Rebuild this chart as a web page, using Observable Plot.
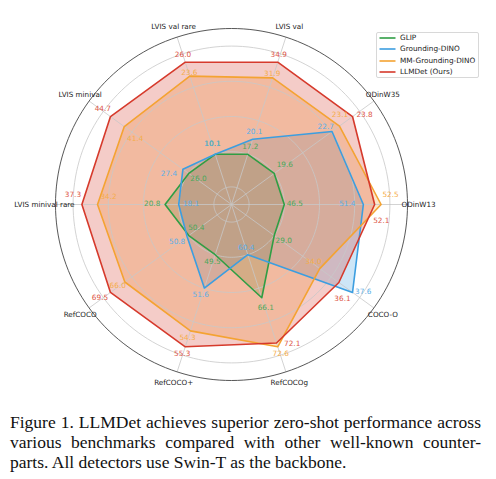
<!DOCTYPE html>
<html><head><meta charset="utf-8">
<script src="https://cdn.jsdelivr.net/npm/d3@7"></script>
<script src="https://cdn.jsdelivr.net/npm/@observablehq/plot@0.6"></script>
<style>
body{margin:0;background:#fff;}
#wrap{position:relative;width:496px;height:479px;overflow:hidden;}
#chart svg{display:block;}
#legend{position:absolute;left:376px;top:32px;width:103px;height:46px;border:1px solid #d8d8d8;border-radius:2px;background:rgba(255,255,255,0.85);font-family:"DejaVu Sans";font-size:7.3px;color:#222;box-sizing:border-box;}
.row{position:absolute;left:0;width:100%;height:0;}
.sw{position:absolute;left:2px;top:-2px;width:17px;height:4px;overflow:visible;}
.lab{position:absolute;left:23px;top:-5px;line-height:10px;white-space:nowrap;}
#caption{position:absolute;left:10px;top:411.5px;width:471px;font-family:"Liberation Serif","Times New Roman",serif;font-size:17.5px;line-height:20.3px;color:#111;}
.j{text-align:justify;text-align-last:justify;}
</style></head>
<body>
<div id="wrap">
  <div id="chart"></div>
  <div id="legend"></div>
  <div id="caption">
    <div class="j">Figure 1. LLMDet achieves superior zero-shot performance across</div>
    <div class="j">various benchmarks compared with other well-known counter-</div>
    <div>parts. All detectors use Swin-T as the backbone.</div>
  </div>
</div>
<script>
// ---- data ----
const axes = ["ODinW13","ODinW35","LVIS val","LVIS val rare","LVIS minival","LVIS minival rare","RefCOCO","RefCOCO+","RefCOCOg","COCO-O"];
const methods = ["GLIP","Grounding-DINO","MM-Grounding-DINO","LLMDet (Ours)"];
const glip    = [46.5,19.6,17.2,10.1,26.0,20.8,50.4,49.5,66.1,29.0];
const gdino   = [51.4,22.7,20.1,10.1,27.4,18.1,50.8,51.6,60.4,37.6];
const mmgdino = [52.5,23.1,31.9,23.6,41.4,34.2,66.0,54.3,72.6,34.0];
const llmdet  = [52.1,23.8,34.9,26.0,44.7,37.3,69.5,55.3,72.1,36.1];
const gridRadii = [0.1,0.3,0.5,0.7,0.9];

// ---- styles ----
const colors = ["#2f9e44","#3c9ee0","#f4a332","#d63a2c"];
const labelColors = ["#4aa85a","#5aaee6","#f5ad4a","#dd5546"];
// label nudges in pixels [dx, dy(down)] per method, per axis
const nudges = [
  [[10.5,-0.7],[10.6,-9],[2.5,-7.8],[-2.7,-10.5],[9.7,4.7],[-12.9,-1.3],[7.5,-7.7],[-2.7,6.8],[4,9.5],[9.5,5]],
  [[-16,-1],[-6.3,-5.2],[1.6,-7.7],[-2.7,-10.5],[-14,4.6],[12.3,-1.3],[-10,5.1],[-3.7,6.8],[-1.6,-6.9],[10.7,-0.7]],
  [[9.4,-10],[0.5,-11.2],[-0.5,-4.6],[-0.5,-3.9],[10.9,12.2],[11,-8],[-7.1,3.4],[-2.9,6.3],[3,6.4],[-6.3,-6.8]],
  [[6.7,16],[12,-1.7],[1,-7.7],[-2.3,-7.7],[-7.7,-7.7],[-9,-10],[-10.5,5.3],[-3.1,7],[15.7,0.8],[3.6,16]]
];

const series = [glip, gdino, mmgdino, llmdet];
const W = 496, H = 400, cx = 231, cy = 204, R = 176;
const rMin = 0.3, rSpan = 0.55, labelR = 1.063;
const n = axes.length;
const ang = i => i * 2 * Math.PI / n;
const mins = axes.map((_, i) => d3.min(series, s => s[i]));
const maxs = axes.map((_, i) => d3.max(series, s => s[i]));
const rad = (v, i) => rMin + rSpan * (v - mins[i]) / (maxs[i] - mins[i]);

const polys = series.map((s, k) => s.map((v, i) => ({
  x: rad(v, i) * Math.cos(ang(i)), y: rad(v, i) * Math.sin(ang(i)), v, i, k
})));
const labels = polys.flatMap((p, k) => p.map(d => ({
  x: d.x + nudges[k][d.i][0] / R, y: d.y - nudges[k][d.i][1] / R,
  text: d.v.toFixed(1), k
})));
const circle = r => d3.range(0, 361, 2).map(a => ({r, x: r * Math.cos(a * Math.PI / 180), y: r * Math.sin(a * Math.PI / 180)}));
const gridPts = gridRadii.flatMap(circle);
const spokes = axes.map((a, i) => ({x: Math.cos(ang(i)), y: Math.sin(ang(i))}));
const axisLabels = axes.map((a, i) => ({x: labelR * Math.cos(ang(i)), y: labelR * Math.sin(ang(i)), text: a}));

const marks = [];
polys.forEach((p, k) => marks.push(Plot.line(p, {x: "x", y: "y", curve: "linear-closed", fill: colors[k], fillOpacity: 0.26, stroke: "none"})));
marks.push(Plot.line(gridPts, {x: "x", y: "y", z: "r", curve: "linear-closed", stroke: "#c8c8c8", strokeWidth: 0.8}));
marks.push(Plot.link(spokes, {x1: 0, y1: 0, x2: "x", y2: "y", stroke: "#c8c8c8", strokeWidth: 0.8}));
polys.forEach((p, k) => marks.push(Plot.line(p, {x: "x", y: "y", curve: "linear-closed", stroke: colors[k], strokeWidth: 1.6})));
marks.push(Plot.line(circle(1), {x: "x", y: "y", curve: "linear-closed", stroke: "#444", strokeWidth: 0.9}));
marks.push(Plot.text(axisLabels, {x: "x", y: "y", text: "text", fontSize: 7.2, fill: "#222"}));
marks.push(Plot.text(labels, {x: "x", y: "y", text: "text", fontSize: 7.3, fill: d => labelColors[d.k]}));

const chart = Plot.plot({
  width: W, height: H, margin: 0,
  x: {domain: [-cx / R, (W - cx) / R], axis: null},
  y: {domain: [-(H - cy) / R, cy / R], axis: null},
  style: {fontFamily: "DejaVu Sans", background: "transparent", overflow: "visible"},
  marks
});
document.getElementById("chart").append(chart);

const leg = document.getElementById("legend");
methods.forEach((m, k) => {
  const row = document.createElement("div");
  row.className = "row";
  row.style.top = (5.3 + 11.1 * k) + "px";
  row.innerHTML = `<svg class="sw" width="17" height="4"><line x1="0.5" y1="2" x2="16.5" y2="2" stroke="${colors[k]}" stroke-width="1.6"/></svg><div class="lab">${m}</div>`;
  leg.append(row);
});
</script>
</body></html>
